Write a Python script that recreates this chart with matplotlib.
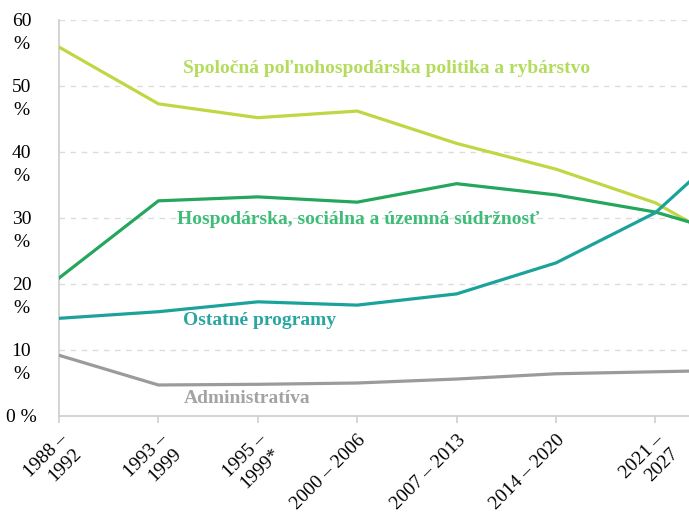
import matplotlib
matplotlib.use("Agg")
from matplotlib import pyplot as plt
from matplotlib import transforms

plt.rcParams['font.family'] = ['Liberation Serif', 'DejaVu Serif']

# categories (last one runs off the right edge of the picture)
periods = ['1988 –\n1992', '1993 –\n1999', '1995 –\n1999*', '2000 – 2006',
           '2007 – 2013', '2014 – 2020', '2021 –\n2027', '2028 – 2034']

agri = [55.9, 47.3, 45.2, 46.2, 41.3, 37.4, 32.3, 23.8]
cohesion = [20.9, 32.6, 33.2, 32.4, 35.2, 33.5, 30.9, 26.5]
other = [14.8, 15.8, 17.3, 16.8, 18.5, 23.2, 30.8, 44.5]
admin = [9.2, 4.7, 4.8, 5.0, 5.6, 6.4, 6.7, 7.0]

y_ticks = [0, 10, 20, 30, 40, 50, 60]
y_labels = ['0 %', '10\n%', '20\n%', '30\n%', '40\n%', '50\n%', '60\n%']

series = [
    (agri, '#c2d644', '#b3dc5c', 'Spoločná poľnohospodárska politika a rybárstvo', 1.25, 52.7),
    (cohesion, '#24a65c', '#3dbd78', 'Hospodárska, sociálna a územná súdržnosť', 1.19, 29.7),
    (other, '#1ba39b', '#2aa6a0', 'Ostatné programy', 1.25, 14.4),
    (admin, '#9b9b9b', '#a3a3a3', 'Administratíva', 1.26, 2.7),
]

fig = plt.figure(figsize=(6.89, 5.13), dpi=100)
ax = fig.add_axes([59/689, 1-416/513, 630/689, 396/513])

x = list(range(len(periods)))
for vals, col, tcol, name, tx, ty in series:
    ax.plot(x, vals, color=col, lw=2.3, solid_joinstyle='round', zorder=3)
    ax.text(tx, ty, name, color=tcol, fontsize=14, fontweight='bold',
            ha='left', va='center', zorder=4)

for v in y_ticks[1:]:
    ax.axhline(v, color='#dcdcdc', lw=1, ls=(0, (4, 4)), zorder=1)

for s in ['top', 'right']:
    ax.spines[s].set_visible(False)
for s in ['left', 'bottom']:
    ax.spines[s].set_color('#d0d0d0')
    ax.spines[s].set_linewidth(1.3)

ax.set_yticks(y_ticks, y_labels)
ax.tick_params(axis='y', length=0, pad=27, labelsize=14)
for lab in ax.get_yticklabels():
    lab.set_ha('center')
    lab.set_va('top')
    lab.set_multialignment('center')
    lab.set_linespacing(1.45)
    lab.set_transform(lab.get_transform() + transforms.ScaledTranslation(0, 5/72, fig.dpi_scale_trans))

ax.set_xticks(x, periods)
ax.tick_params(axis='x', length=5, color='#d0d0d0', width=1.2, pad=6, labelsize=14)
for lab in ax.get_xticklabels():
    lab.set_rotation(45)
    lab.set_rotation_mode('anchor')
    lab.set_ha('right')
    lab.set_va('top')
    lab.set_multialignment('right')

ax.set_xlim(0, 630/99.4)
ax.set_ylim(0, 60)

fig.savefig('out.png', dpi=100)
